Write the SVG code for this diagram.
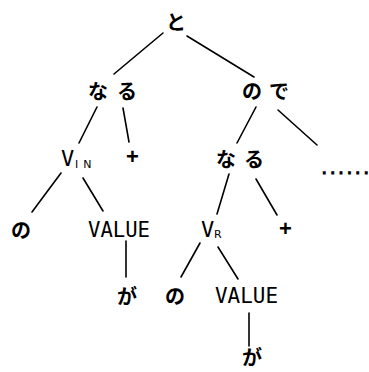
<svg xmlns="http://www.w3.org/2000/svg" width="369" height="372" viewBox="0 0 369 372">
<style>
.jp{font-family:"Noto Sans CJK JP","Noto Sans CJK SC",sans-serif;font-size:20px;font-weight:bold;fill:#000}
.mono{font-family:"DejaVu Sans Mono","Liberation Mono",monospace;font-size:22px;fill:#000}
.sub{font-family:"DejaVu Sans","Liberation Sans",sans-serif;font-size:11px;fill:#000}
.plus{font-family:"Liberation Sans",sans-serif;font-size:22px;font-weight:bold;fill:#000}
.dots{font-family:"Liberation Mono",monospace;font-size:14px;font-weight:bold;fill:#000;stroke:#000;stroke-width:0.9}
#edges line{stroke:#000;stroke-width:1.6;stroke-linecap:round}
</style>
<rect width="369" height="372" fill="#fff"/>
<g id="edges">
<line x1="163" y1="33" x2="114" y2="74"/>
<line x1="187" y1="36" x2="254" y2="77"/>
<line x1="97" y1="107" x2="79" y2="143"/>
<line x1="123" y1="108" x2="129" y2="142"/>
<line x1="256" y1="107" x2="237" y2="143"/>
<line x1="278" y1="110" x2="317" y2="145"/>
<line x1="61" y1="173" x2="32" y2="212"/>
<line x1="83" y1="178" x2="103" y2="211"/>
<line x1="126" y1="241" x2="126" y2="277"/>
<line x1="229" y1="174" x2="217" y2="214"/>
<line x1="256" y1="179" x2="277" y2="215"/>
<line x1="200" y1="243" x2="181" y2="277"/>
<line x1="218" y1="247" x2="238" y2="279"/>
<line x1="249" y1="313" x2="249" y2="346"/>
</g>
<g id="n-to"><text class="jp" x="166" y="30">と</text></g>
<g id="n-naru1"><text class="jp" x="88" y="99" letter-spacing="9">なる</text></g>
<g id="n-node"><text class="jp" x="242" y="99" letter-spacing="7">ので</text></g>
<g id="n-vin"><text class="mono" x="61" y="166" font-size="21">V</text><text class="sub" x="75" y="168" letter-spacing="5">IN</text></g>
<g id="n-plus1"><text class="plus" x="126" y="164">+</text></g>
<g id="n-naru2"><text class="jp" x="216" y="167" letter-spacing="8">なる</text></g>
<g id="n-dots"><text class="dots" x="320" y="174">......</text></g>
<g id="n-no1"><text class="jp" x="11" y="238">の</text></g>
<g id="n-value1"><text class="mono" x="88" y="237" textLength="62" lengthAdjust="spacingAndGlyphs">VALUE</text></g>
<g id="n-vr"><text class="mono" x="201" y="237" font-size="21">V</text><text class="sub" x="214" y="238" font-size="12">R</text></g>
<g id="n-plus2"><text class="plus" x="279" y="236">+</text></g>
<g id="n-ga1"><text class="jp" x="117" y="304">が</text></g>
<g id="n-no2"><text class="jp" x="165" y="304">の</text></g>
<g id="n-value2"><text class="mono" x="215" y="303" textLength="63" lengthAdjust="spacingAndGlyphs">VALUE</text></g>
<g id="n-ga2"><text class="jp" x="242" y="365" font-size="18">が</text></g>
</svg>
